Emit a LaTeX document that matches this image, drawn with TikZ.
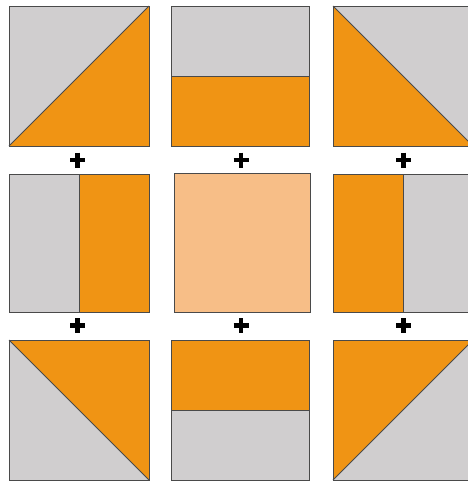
\documentclass[tikz,border=0pt]{standalone}
\definecolor{qgray}{HTML}{D0CECF}
\definecolor{qorange}{HTML}{F09414}
\definecolor{qlight}{HTML}{F7BE87}
\definecolor{qline}{HTML}{4A4A4A}
\begin{document}
\begin{tikzpicture}[x=1pt,y=-1pt,
  edge/.style={draw=qline,line width=0.9pt},
  plussign/.style={line width=4.6pt,black}]
\useasboundingbox (0,0) rectangle (468,483);
\clip (0,0) rectangle (468,483);
% Row 1
% top-left
\fill[qgray] (9,6) rectangle (149,146);
\fill[qorange] (9,146) -- (149,6) -- (149,146) -- cycle;
\draw[edge] (9,6) rectangle (149,146);
\draw[edge] (9,146) -- (149,6);
% top-middle
\fill[qgray] (171,6) rectangle (309,76);
\fill[qorange] (171,76) rectangle (309,146);
\draw[edge] (171,6) rectangle (309,146);
\draw[edge] (171,76) -- (309,76);
% top-right
\fill[qgray] (333,6) rectangle (473,146);
\fill[qorange] (333,6) -- (473,146) -- (333,146) -- cycle;
\draw[edge] (333,6) rectangle (473,146);
\draw[edge] (333,6) -- (473,146);
% Row 2
\fill[qgray] (9,174) rectangle (79,312);
\fill[qorange] (79,174) rectangle (149,312);
\draw[edge] (9,174) rectangle (149,312);
\draw[edge] (79,174) -- (79,312);
\fill[qlight] (174,173) rectangle (310,312);
\draw[edge] (174,173) rectangle (310,312);
\fill[qorange] (333,174) rectangle (403,312);
\fill[qgray] (403,174) rectangle (473,312);
\draw[edge] (333,174) rectangle (473,312);
\draw[edge] (403,174) -- (403,312);
% Row 3
\fill[qgray] (9,340) rectangle (149,480);
\fill[qorange] (9,340) -- (149,340) -- (149,480) -- cycle;
\draw[edge] (9,340) rectangle (149,480);
\draw[edge] (9,340) -- (149,480);
\fill[qorange] (171,340) rectangle (309,410);
\fill[qgray] (171,410) rectangle (309,480);
\draw[edge] (171,340) rectangle (309,480);
\draw[edge] (171,410) -- (309,410);
\fill[qgray] (333,340) rectangle (473,480);
\fill[qorange] (333,340) -- (473,340) -- (333,480) -- cycle;
\draw[edge] (333,340) rectangle (473,480);
\draw[edge] (333,480) -- (473,340);
% plus signs
\foreach \px in {77.5,241,403.5}{
  \foreach \py in {160,325.5}{
    \draw[plussign] (\px-7.5,\py) -- (\px+7.5,\py);
    \draw[plussign] (\px,\py-7.5) -- (\px,\py+7.5);
  }
}
\end{tikzpicture}
\end{document}
